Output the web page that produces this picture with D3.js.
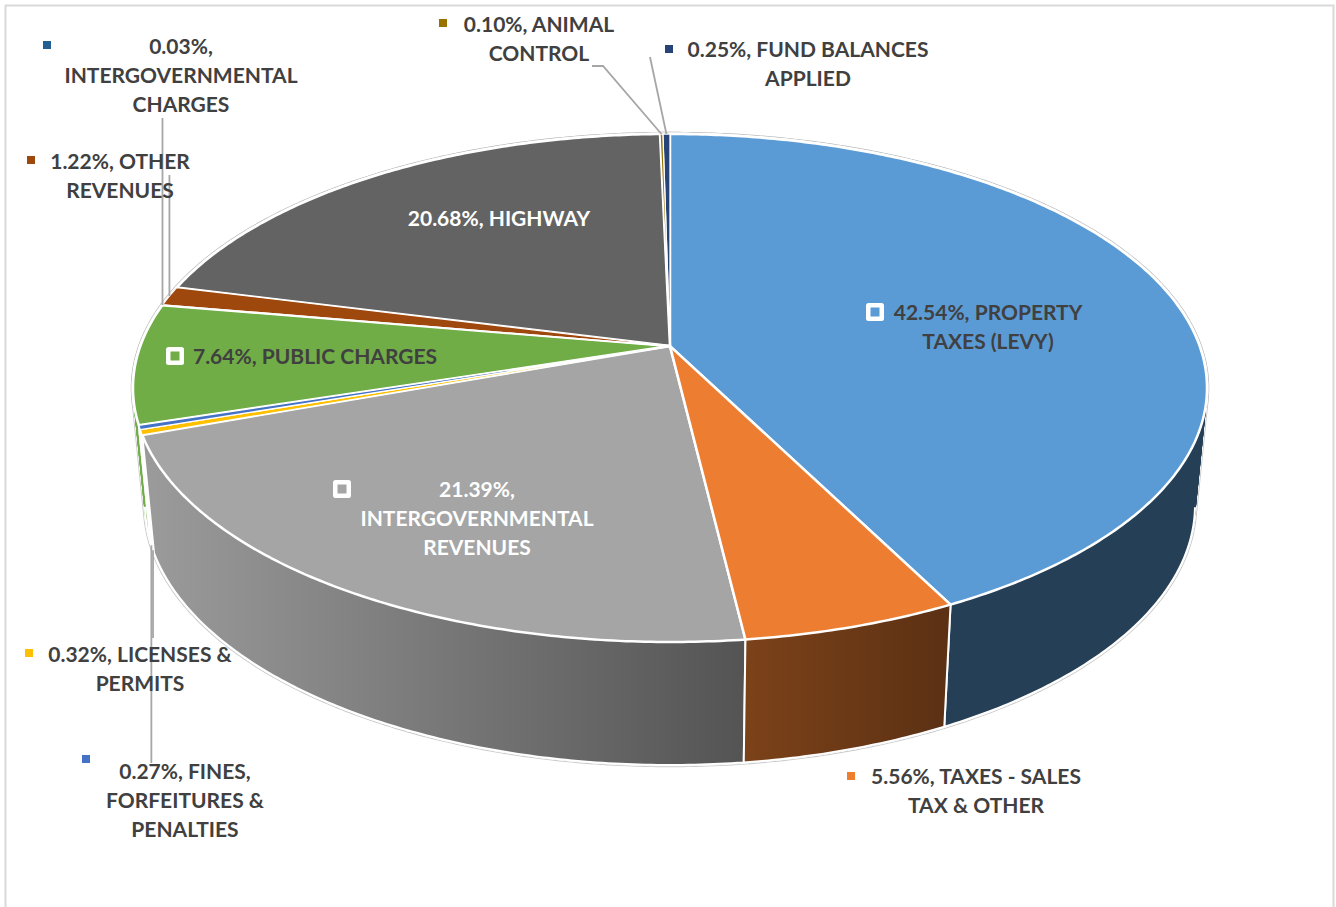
<!DOCTYPE html>
<html>
<head>
<meta charset="utf-8">
<script src="https://cdn.jsdelivr.net/npm/d3@7"></script>
<style>
  html, body { margin: 0; padding: 0; background: #fff; overflow: hidden; }
  svg { display: block; }
  text { font-family: Lato, "Open Sans", sans-serif; font-weight: 700; }
</style>
</head>
<body>
<svg id="chart" width="1336" height="907"></svg>
<script>
// Budget revenue shares, clockwise from twelve o'clock. "|" marks a line break.
const categories = [
  "PROPERTY|TAXES (LEVY)", "TAXES - SALES|TAX & OTHER", "|INTERGOVERNMENTAL|REVENUES",
  "LICENSES &|PERMITS", "FINES,|FORFEITURES &|PENALTIES", "PUBLIC CHARGES",
  "|INTERGOVERNMENTAL|CHARGES", "OTHER|REVENUES", "HIGHWAY", "ANIMAL|CONTROL",
  "FUND BALANCES|APPLIED"
];
const shares = [42.54, 5.56, 21.39, 0.32, 0.27, 7.64, 0.03, 1.22, 20.68, 0.10, 0.25];
const topColors = ["#5b9bd5", "#ed7d31", "#a5a5a5", "#ffc000", "#4472c4", "#70ad47",
                   "#255e91", "#9e480e", "#636363", "#997300", "#264478"];

// Wall shading, left to right along each visible side face.
const wallShades = [
  ["#243f56", "#243f56"], ["#7c4219", "#5c3114"], ["#9a9a9a", "#545454"],
  ["#ffc000", "#ffc000"], ["#4472c4", "#4472c4"], ["#70ad47", "#70ad47"],
  ["#255e91", "#255e91"], ["#9e480e", "#9e480e"], ["#636363", "#636363"],
  ["#997300", "#997300"], ["#264478", "#264478"]
];

// Label placement: centre x, centre y of first line, key x, key y, key style, text colour.
const labelCx   = [988, 976, 477, 140, 185, 315, 181, 120, 499, 539, 808];
const labelCy   = [312, 776, 489, 654, 771, 356, 46, 161, 218, 24, 49];
const keyX      = [875, 851, 342, 29, 86, 175, 47, 31, null, 443, 669];
const keyY      = [312, 776, 489, 653, 759, 356, 45, 160, null, 23, 49];
const keyHalo   = [true, false, true, false, false, true, false, false, false, false, false];
const labelFill = ["#404040", "#404040", "#ffffff", "#404040", "#404040", "#404040",
                   "#404040", "#404040", "#ffffff", "#404040", "#404040"];

const svg = d3.select("#chart");
const defs = svg.append("defs");

// Chart frame
svg.append("path")
  .attr("d", "M5.5,920V5.5H1333.5V920")
  .attr("fill", "none").attr("stroke", "#d9d9d9").attr("stroke-width", 2);

// Perspective projection of the unit disc: the disc centre lands above the ellipse centre.
const tilt = -0.165;
const squeeze = Math.sqrt(1 - tilt * tilt);
function project(angle) {
  const x = Math.sin(angle), y = -Math.cos(angle), w = 1 + tilt * y;
  return [x * squeeze / w, (y + tilt) / w];
}
const topX = d3.scaleLinear().domain([-1, 1]).range([133, 1207]);
const topY = d3.scaleLinear().domain([-1, 1]).range([134, 642]);
const baseX = d3.scaleLinear().domain([-1, 1]).range([145, 1195]);
const baseY = d3.scaleLinear().domain([-1, 1]).range([245, 765]);
const onTop  = a => { const p = project(a); return [topX(p[0]), topY(p[1])]; };
const onBase = a => { const p = project(a); return [baseX(p[0]), baseY(p[1])]; };
const apex = [topX(0), topY(tilt)];

const slices = d3.pie().sort(null).value(d => d)(shares);
const line = d3.line();
const arcAngles = s => {
  const n = Math.max(2, Math.ceil((s.endAngle - s.startAngle) / 0.01));
  return d3.range(n + 1).map(i => s.startAngle + (s.endAngle - s.startAngle) * i / n);
};
const wedgePath = s => line([apex, ...arcAngles(s).map(onTop)]) + "Z";

// A wall is a strip of small quads with one orientation, so the fill also
// covers the notch between the top and base rims at the far left and right.
const wallPath = s => {
  const as = arcAngles(s);
  return d3.pairs(as).map(([a, b]) => {
    const quad = [onTop(a), onTop(b), onBase(b), onBase(a)];
    if (d3.polygonArea(quad) < 0) quad.reverse();
    return line(quad) + "Z";
  }).join("");
};

// White edges are drawn only on the front half, where the wall can be seen.
const isFront = a => project(a)[1] >= 0;
const wallEdges = s => {
  const front = arcAngles(s).filter(isFront);
  if (!front.length) return null;
  const pts = front.map(onBase);
  if (isFront(s.startAngle)) pts.unshift(onTop(s.startAngle));
  if (isFront(s.endAngle)) pts.push(onTop(s.endAngle));
  return line(pts);
};

// Thin grey rim that shows just outside a white border round the whole solid
const rim = svg.append("g").attr("stroke-linejoin", "round");
[["#c9c9c9", 4.4], ["#ffffff", 2.6]].forEach(([colour, width]) => {
  const layer = rim.append("g").attr("fill", colour).attr("stroke", colour).attr("stroke-width", width);
  layer.selectAll("path.w").data(slices).join("path").attr("class", "w").attr("d", wallPath);
  layer.selectAll("path.t").data(slices).join("path").attr("class", "t").attr("d", wedgePath);
});

// Side walls, painted back to front
slices.forEach((s, i) => {
  const g = defs.append("linearGradient").attr("id", "wall" + i)
    .attr("gradientUnits", "userSpaceOnUse")
    .attr("x1", Math.min(onBase(s.startAngle)[0], onBase(s.endAngle)[0]))
    .attr("x2", Math.max(onBase(s.startAngle)[0], onBase(s.endAngle)[0]))
    .attr("y1", 0).attr("y2", 0);
  g.append("stop").attr("offset", 0).attr("stop-color", wallShades[i][0]);
  g.append("stop").attr("offset", 1).attr("stop-color", wallShades[i][1]);
});
const midDepth = s => project((s.startAngle + s.endAngle) / 2)[1];
const walls = svg.append("g").selectAll("g")
  .data(slices.slice().sort((a, b) => d3.ascending(midDepth(a), midDepth(b))))
  .join("g");
walls.append("path")
  .attr("d", wallPath)
  .attr("fill", d => `url(#wall${d.index})`)
  .attr("stroke", d => `url(#wall${d.index})`).attr("stroke-width", 0.6);
walls.filter(d => wallEdges(d) !== null).append("path")
  .attr("d", wallEdges)
  .attr("fill", "none").attr("stroke", "#fff").attr("stroke-width", 2).attr("stroke-linejoin", "round");

// Top face; the narrow slices go last with a finer border so their colour survives
svg.append("g").selectAll("path")
  .data(slices.slice().sort((a, b) => d3.descending(a.value, b.value)))
  .join("path")
  .attr("d", wedgePath)
  .attr("fill", d => topColors[d.index])
  .attr("stroke", "#fff")
  .attr("stroke-width", d => d.value < 2 ? 1.3 : 2.5)
  .attr("stroke-linejoin", "round");

// Leader lines from small slices to their labels
const midAngle = i => (slices[i].startAngle + slices[i].endAngle) / 2;
const leaders = [
  { from: onTop(midAngle(6)),  via: p => [[p[0], 118]] },
  { from: onTop(midAngle(7)),  via: p => [[p[0], 175]] },
  { from: onTop(midAngle(9)),  via: () => [[603, 66], [592, 66]] },
  { from: onTop(midAngle(10)), via: () => [[650, 57]] },
  { from: onBase(midAngle(3)), via: p => [[p[0], 638]] },
  { from: onBase(midAngle(4)), via: p => [[p[0], 763]] }
];
svg.append("g").selectAll("path").data(leaders).join("path")
  .attr("d", d => line([d.from, ...d.via(d.from)]))
  .attr("fill", "none").attr("stroke", "#a6a6a6").attr("stroke-width", 1.8);

// Data labels with their legend keys
const labels = svg.append("g").selectAll("g").data(slices).join("g");
labels.each(function (s) {
  const i = s.index, g = d3.select(this);
  const rows = `${shares[i].toFixed(2)}%, ${categories[i]}`.split("|").map(t => t.trim());
  rows.forEach((t, r) => {
    g.append("text")
      .attr("x", labelCx[i]).attr("y", labelCy[i] + r * 29.4)
      .attr("dy", "0.36em").attr("text-anchor", "middle")
      .attr("font-size", 21).attr("fill", labelFill[i]).text(t);
  });
  if (keyX[i] === null) return;
  if (keyHalo[i]) {
    g.append("rect").attr("x", keyX[i] - 9).attr("y", keyY[i] - 9)
      .attr("width", 18).attr("height", 18).attr("rx", 2.5).attr("fill", "#fff");
    g.append("rect").attr("x", keyX[i] - 4.5).attr("y", keyY[i] - 4.5)
      .attr("width", 9).attr("height", 9).attr("fill", topColors[i]);
  } else {
    g.append("rect").attr("x", keyX[i] - 4).attr("y", keyY[i] - 4)
      .attr("width", 8).attr("height", 8).attr("fill", topColors[i]);
  }
});
</script>
</body>
</html>
